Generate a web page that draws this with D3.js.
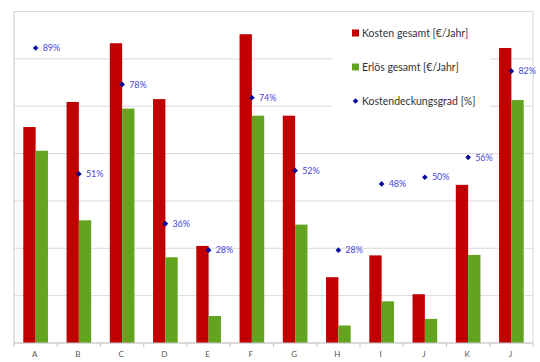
<!DOCTYPE html>
<html>
<head>
<meta charset="utf-8">
<script src="https://cdn.jsdelivr.net/npm/d3@7.8.5/dist/d3.min.js"></script>
<style>
  body { margin: 0; background: #fff; }
  svg { display: block; font-family: Lato, "Open Sans", sans-serif; }
</style>
</head>
<body>
<div id="chart"></div>
<script>
// Kategorien (Beschriftung wie im Bild)
const categories = ['A', 'B', 'C', 'D', 'E', 'F', 'G', 'H', 'I', 'J', 'K', 'J'];
// Kosten gesamt [€/Jahr] (relative Einheiten)
const kosten = [4.56, 5.09, 6.33, 5.15, 2.05, 6.52, 4.80, 1.39, 1.85, 1.03, 3.34, 6.23];
// Erlös gesamt [€/Jahr]
const erloes = [4.06, 2.59, 4.95, 1.81, 0.57, 4.80, 2.50, 0.37, 0.88, 0.51, 1.86, 5.13];
// Kostendeckungsgrad [%]
const grad = [89, 51, 78, 36, 28, 74, 52, 28, 48, 50, 56, 82];
const legendLabels = ['Kosten gesamt [€/Jahr]', 'Erlös gesamt [€/Jahr]', 'Kostendeckungsgrad [%]'];

const width = 540, height = 362;
const margin = { top: 11.5, right: 7, bottom: 19, left: 14 };
const innerW = width - margin.left - margin.right;
const innerH = height - margin.top - margin.bottom;

const colors = { red: '#c00000', green: '#62a420', dot: '#0a0a9a', label: '#4646dc' };

const svg = d3.select('#chart').append('svg')
  .attr('width', width)
  .attr('height', height);

const g = svg.append('g')
  .attr('transform', `translate(${margin.left},${margin.top})`);

const x = d3.scaleBand()
  .domain(d3.range(categories.length))
  .range([0, innerW])
  .paddingInner(0.43)
  .paddingOuter(0.215);

const y = d3.scaleLinear().domain([0, 7]).range([innerH, 0]);
const y2 = d3.scaleLinear().domain([0, 100]).range([innerH, 0]);

// Gitterlinien
g.append('g')
  .selectAll('line')
  .data(y.ticks(7))
  .join('line')
  .attr('x1', 0)
  .attr('x2', innerW)
  .attr('y1', d => y(d))
  .attr('y2', d => y(d))
  .style('stroke', '#d9d9d9')
  .style('stroke-width', 1);

// rechter Rahmen
g.append('line')
  .attr('x1', innerW).attr('x2', innerW)
  .attr('y1', 0).attr('y2', innerH)
  .style('stroke', '#d9d9d9');

// linke Achse
g.append('line')
  .attr('x1', 0).attr('x2', 0)
  .attr('y1', 0).attr('y2', innerH)
  .style('stroke', '#c8c8c8');

// Legenden-Hintergrund (verdeckt Gitterlinien)
g.append('rect')
  .attr('x', 333 - margin.left)
  .attr('y', 1)
  .attr('width', 157)
  .attr('height', 118)
  .style('fill', '#fff');

const sub = x.bandwidth() / 2;

// Balken Kosten
g.append('g')
  .selectAll('rect')
  .data(kosten)
  .join('rect')
  .attr('x', (d, i) => x(i))
  .attr('y', d => y(d))
  .attr('width', sub)
  .attr('height', d => innerH - y(d))
  .style('fill', colors.red);

// Balken Erlös
g.append('g')
  .selectAll('rect')
  .data(erloes)
  .join('rect')
  .attr('x', (d, i) => x(i) + sub)
  .attr('y', d => y(d))
  .attr('width', sub)
  .attr('height', d => innerH - y(d))
  .style('fill', colors.green);

// x-Achse
const xAxis = g.append('g')
  .attr('transform', `translate(0,${innerH})`);

xAxis.append('line')
  .attr('x1', 0).attr('x2', innerW)
  .style('stroke', '#c8c8c8');

xAxis.selectAll('.tick')
  .data(d3.range(categories.length + 1))
  .join('line')
  .attr('x1', i => i * x.step())
  .attr('x2', i => i * x.step())
  .attr('y1', 0)
  .attr('y2', 4)
  .style('stroke', '#c8c8c8');

xAxis.selectAll('text')
  .data(categories)
  .join('text')
  .attr('x', (d, i) => x(i) + x.bandwidth() / 2 - 1)
  .attr('y', 14)
  .attr('text-anchor', 'middle')
  .style('font-size', '8px')
  .style('fill', '#555')
  .text(d => d);

// Kostendeckungsgrad Punkte (Raute)
const diamond = d3.symbol(d3.symbolSquare, 16);

const pts = g.append('g')
  .selectAll('g')
  .data(grad)
  .join('g')
  .attr('transform', (d, i) => `translate(${x(i) + sub},${y2(d)})`);

pts.append('path')
  .attr('d', diamond)
  .attr('transform', 'rotate(45)')
  .style('fill', colors.dot);

pts.append('text')
  .attr('x', 7)
  .attr('dy', '0.35em')
  .style('font-size', '9px')
  .style('fill', colors.label)
  .text(d => d + '%');

// Legende
const legend = svg.append('g')
  .attr('transform', 'translate(352,0)');

const rows = [33, 67, 101];

legend.append('rect')
  .attr('x', 0).attr('y', rows[0] - 3.5)
  .attr('width', 7).attr('height', 7)
  .style('fill', colors.red);

legend.append('rect')
  .attr('x', 0).attr('y', rows[1] - 3.5)
  .attr('width', 7).attr('height', 7)
  .style('fill', colors.green);

legend.append('path')
  .attr('transform', `translate(3.5,${rows[2]}) rotate(45)`)
  .attr('d', diamond)
  .style('fill', colors.dot);

legend.selectAll('text')
  .data(legendLabels)
  .join('text')
  .attr('x', 10)
  .attr('y', (d, i) => rows[i])
  .attr('dy', '0.35em')
  .style('font-size', '10.5px')
  .style('fill', '#333')
  .text(d => d);
</script>
</body>
</html>
